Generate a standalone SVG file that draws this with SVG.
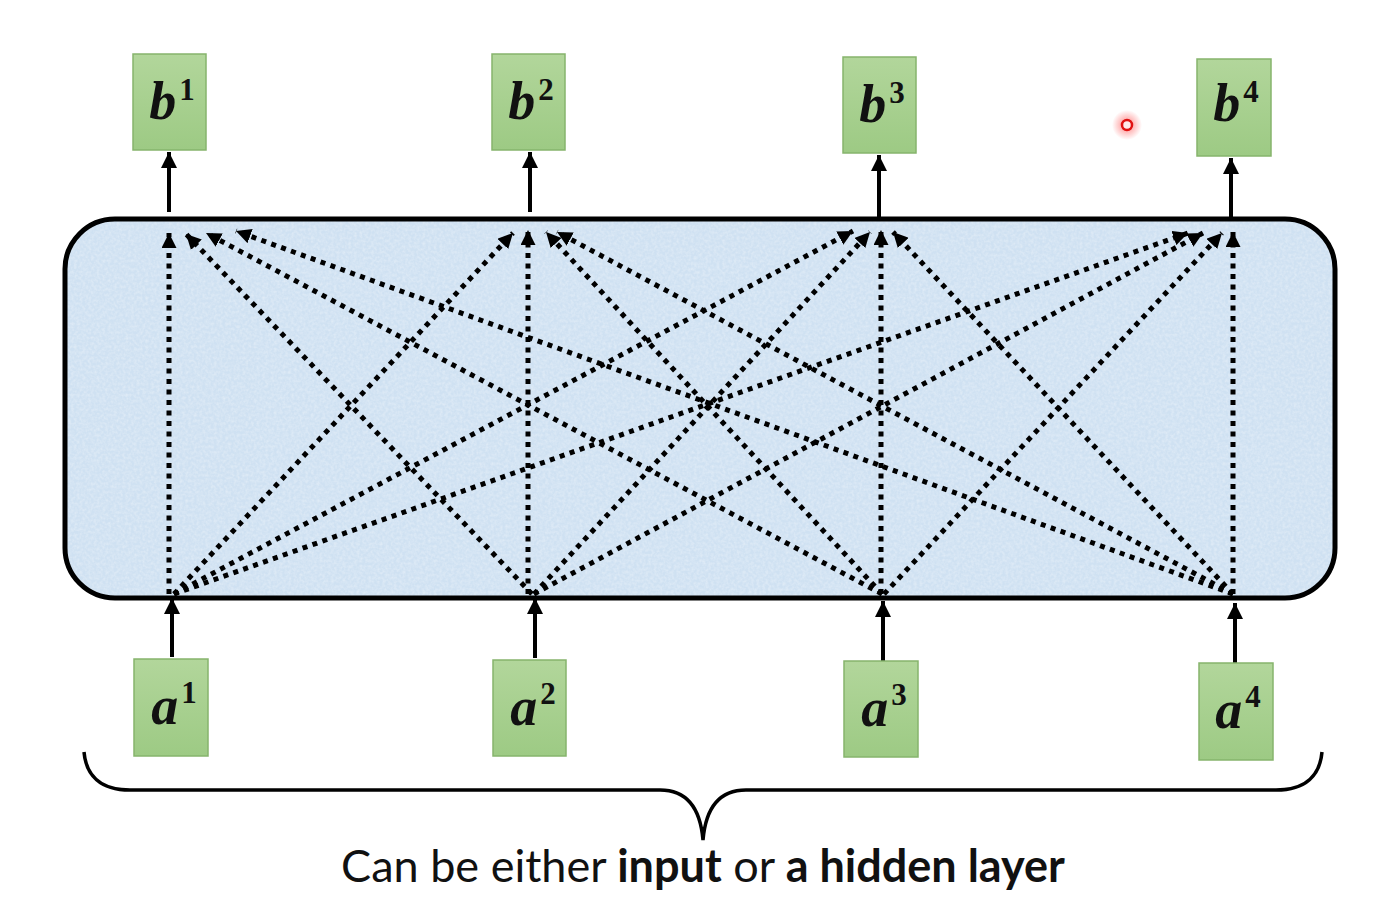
<svg xmlns="http://www.w3.org/2000/svg" width="1373" height="902" viewBox="0 0 1373 902">
  <defs>
    <style>
      .box { fill: url(#green); stroke: #86b46c; stroke-width: 1.5; }
      .lbl { font-family: "Liberation Serif", serif; font-weight: bold; font-style: italic; font-size: 54px; fill: #111; text-anchor: middle; }
      .sup { font-style: normal; font-size: 31px; }
      .dot { fill: none; stroke: #000; stroke-width: 5; stroke-dasharray: 5 5.5; marker-end: url(#dhead); }
      .solid { fill: none; stroke: #000; stroke-width: 4; marker-end: url(#shead); }
      .cap { font-family: Lato, "Liberation Sans", sans-serif; font-size: 45px; fill: #111; text-anchor: middle; }
    </style>
    <linearGradient id="green" x1="0" y1="0" x2="0" y2="1">
      <stop offset="0" stop-color="#b2d69b"/>
      <stop offset="1" stop-color="#9dca84"/>
    </linearGradient>
    <radialGradient id="glow">
      <stop offset="0" stop-color="#ff3030" stop-opacity="0.6"/>
      <stop offset="1" stop-color="#ff3030" stop-opacity="0"/>
    </radialGradient>
    <marker id="dhead" markerUnits="userSpaceOnUse" viewBox="0 0 15 15" refX="15" refY="7.5" markerWidth="15" markerHeight="15" orient="auto">
      <path d="M0,0 L15,7.5 L0,15 z" fill="#000"/>
    </marker>
    <marker id="shead" markerUnits="userSpaceOnUse" viewBox="0 0 16 16" refX="16" refY="8" markerWidth="16" markerHeight="16" orient="auto">
      <path d="M0,0 L16,8 L0,16 z" fill="#000"/>
    </marker>
    <filter id="tex" x="0" y="0" width="100%" height="100%">
      <feTurbulence type="fractalNoise" baseFrequency="0.35" numOctaves="2" seed="3"/>
      <feColorMatrix type="matrix" values="0 0 0 0 1  0 0 0 0 1  0 0 0 0 1  0 0 0 -1.6 1.1"/>
    </filter>
    <clipPath id="rclip">
      <rect x="65" y="219" width="1270" height="379" rx="50"/>
    </clipPath>
  </defs>

  <rect width="1373" height="902" fill="#fff"/>

  <g id="layer">
    <rect x="65" y="219" width="1270" height="379" rx="50" fill="#cfe1f2"/>
    <rect x="65" y="219" width="1270" height="379" filter="url(#tex)" clip-path="url(#rclip)" opacity="0.35"/>
    <rect x="65" y="219" width="1270" height="379" rx="50" fill="none" stroke="#000" stroke-width="5"/>
  </g>

  <g id="connectors">
    <line class="dot" x1="169" y1="594" x2="169" y2="233"/>
    <line class="dot" x1="532" y1="594" x2="186" y2="234"/>
    <line class="dot" x1="882" y1="594" x2="206" y2="233"/>
    <line class="dot" x1="1233" y1="594" x2="236" y2="231"/>

    <line class="dot" x1="174" y1="594" x2="513" y2="233"/>
    <line class="dot" x1="528" y1="594" x2="528" y2="230"/>
    <line class="dot" x1="882" y1="594" x2="546" y2="232"/>
    <line class="dot" x1="1233" y1="594" x2="557" y2="232"/>

    <line class="dot" x1="174" y1="594" x2="853" y2="231"/>
    <line class="dot" x1="534" y1="594" x2="870" y2="232"/>
    <line class="dot" x1="881" y1="594" x2="881" y2="230"/>
    <line class="dot" x1="1233" y1="594" x2="893" y2="232"/>

    <line class="dot" x1="174" y1="594" x2="1188" y2="233"/>
    <line class="dot" x1="534" y1="594" x2="1203" y2="233"/>
    <line class="dot" x1="884" y1="594" x2="1222" y2="233"/>
    <line class="dot" x1="1233" y1="594" x2="1233" y2="232"/>

    <line class="solid" x1="169" y1="212" x2="169" y2="152"/>
    <line class="solid" x1="530" y1="212" x2="530" y2="152"/>
    <line class="solid" x1="879" y1="218" x2="879" y2="155"/>
    <line class="solid" x1="1231" y1="218" x2="1231" y2="158"/>

    <line class="solid" x1="172" y1="657" x2="172" y2="598"/>
    <line class="solid" x1="535" y1="658" x2="535" y2="598"/>
    <line class="solid" x1="883" y1="662" x2="883" y2="601"/>
    <line class="solid" x1="1235" y1="663" x2="1235" y2="603"/>
  </g>

  <g id="b1"><rect class="box" x="133" y="54" width="73" height="96"/><text class="lbl" x="172" y="119">b<tspan class="sup" dx="3" dy="-19">1</tspan></text></g>
  <g id="b2"><rect class="box" x="492" y="54" width="73" height="96"/><text class="lbl" x="531" y="119">b<tspan class="sup" dx="3" dy="-19">2</tspan></text></g>
  <g id="b3"><rect class="box" x="843" y="57" width="73" height="96"/><text class="lbl" x="882" y="122">b<tspan class="sup" dx="3" dy="-19">3</tspan></text></g>
  <g id="b4"><rect class="box" x="1197" y="59" width="74" height="97"/><text class="lbl" x="1236" y="121">b<tspan class="sup" dx="3" dy="-19">4</tspan></text></g>

  <g id="a1"><rect class="box" x="134" y="659" width="74" height="97"/><text class="lbl" x="174" y="724">a<tspan class="sup" dx="3" dy="-21">1</tspan></text></g>
  <g id="a2"><rect class="box" x="493" y="660" width="73" height="96"/><text class="lbl" x="533" y="725">a<tspan class="sup" dx="3" dy="-21">2</tspan></text></g>
  <g id="a3"><rect class="box" x="844" y="661" width="74" height="96"/><text class="lbl" x="884" y="726">a<tspan class="sup" dx="3" dy="-21">3</tspan></text></g>
  <g id="a4"><rect class="box" x="1199" y="663" width="74" height="97"/><text class="lbl" x="1238" y="728">a<tspan class="sup" dx="3" dy="-21">4</tspan></text></g>

  <g id="pointer">
    <circle cx="1127" cy="125" r="15" fill="url(#glow)"/>
    <circle cx="1127" cy="125" r="5" fill="#ffe8e8" stroke="#e01010" stroke-width="2.5"/>
  </g>

  <g id="brace">
    <path d="M84,752 C86,775 100,790 130,790 L660,790 C685,790 700,805 703,840 C706,805 721,790 746,790 L1276,790 C1306,790 1320,775 1322,752" fill="none" stroke="#000" stroke-width="3.5"/>
  </g>

  <g id="caption">
    <text class="cap" x="703" y="882">Can be either <tspan font-weight="bold">input</tspan> or <tspan font-weight="bold">a hidden layer</tspan></text>
  </g>
</svg>
